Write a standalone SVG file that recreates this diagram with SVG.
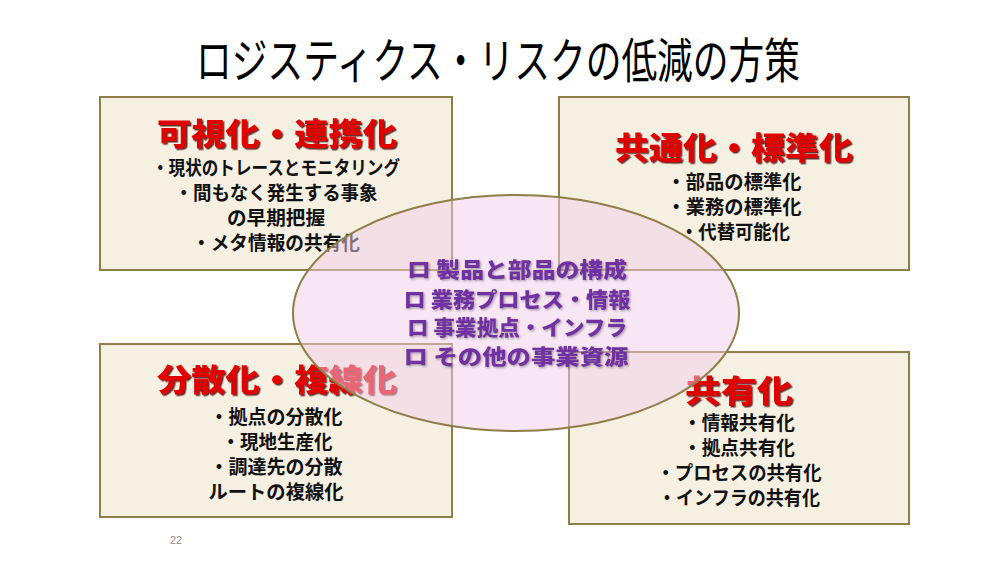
<svg xmlns="http://www.w3.org/2000/svg" width="1000" height="562" viewBox="0 0 1000 562">
<defs>
<filter id="redShadow" x="-5%" y="-20%" width="110%" height="140%">
<feDropShadow dx="1.5" dy="1.5" stdDeviation="0.6" flood-color="#400000" flood-opacity="0.8"/>
</filter>
<filter id="softShadow" x="-5%" y="-20%" width="110%" height="140%">
<feDropShadow dx="1.2" dy="1.2" stdDeviation="0.8" flood-color="#000000" flood-opacity="0.35"/>
</filter>
</defs>
<style>
.box{fill:#F5F0E1;stroke:#8E7E48;stroke-width:2}
.ttl{font-family:"Noto Sans CJK JP","Noto Sans",sans-serif;font-weight:900;font-size:31px;fill:#E00000;text-anchor:middle;filter:url(#redShadow)}
.body{font-family:"Noto Sans CJK JP","Noto Sans",sans-serif;font-weight:700;font-size:19px;fill:#111111;text-anchor:middle}
.ctr{font-family:"Noto Sans CJK JP","Noto Sans",sans-serif;font-weight:900;font-size:21px;fill:#7030A0;text-anchor:middle;filter:url(#softShadow)}
.head{font-family:"Noto Sans CJK JP","Noto Sans",sans-serif;font-weight:400;font-size:48px;fill:#000000;text-anchor:middle}
</style>
<rect width="1000" height="562" fill="#FFFFFF"/>
<text class="head" x="498" y="78" textLength="604" lengthAdjust="spacingAndGlyphs">ロジスティクス・リスクの低減の方策</text>

<g id="node-visualize">
<rect class="box" x="100" y="97" width="352" height="173"/>
<text class="ttl" x="277" y="145" textLength="240" lengthAdjust="spacingAndGlyphs">可視化・連携化</text>
<text class="body" x="276" y="175" textLength="248" lengthAdjust="spacingAndGlyphs">・現状のトレースとモニタリング</text>
<text class="body" x="276" y="200" textLength="203" lengthAdjust="spacingAndGlyphs">・間もなく発生する事象</text>
<text class="body" x="276" y="225" textLength="98" lengthAdjust="spacingAndGlyphs">の早期把握</text>
<text class="body" x="276" y="250" textLength="168" lengthAdjust="spacingAndGlyphs">・メタ情報の共有化</text>
</g>

<g id="node-standardize">
<rect class="box" x="559" y="97" width="350" height="173"/>
<text class="ttl" x="734" y="159" textLength="238" lengthAdjust="spacingAndGlyphs">共通化・標準化</text>
<text class="body" x="734" y="189" textLength="135" lengthAdjust="spacingAndGlyphs">・部品の標準化</text>
<text class="body" x="734" y="214" textLength="135" lengthAdjust="spacingAndGlyphs">・業務の標準化</text>
<text class="body" x="735" y="239" textLength="110" lengthAdjust="spacingAndGlyphs">・代替可能化</text>
</g>

<g id="node-distribute">
<rect class="box" x="100" y="344" width="352" height="173"/>
<text class="ttl" x="277" y="391" textLength="240" lengthAdjust="spacingAndGlyphs">分散化・複線化</text>
<text class="body" x="276" y="424" textLength="133" lengthAdjust="spacingAndGlyphs">・拠点の分散化</text>
<text class="body" x="277" y="449" textLength="111" lengthAdjust="spacingAndGlyphs">・現地生産化</text>
<text class="body" x="276" y="474" textLength="133" lengthAdjust="spacingAndGlyphs">・調達先の分散</text>
<text class="body" x="276" y="499" textLength="135" lengthAdjust="spacingAndGlyphs">ルートの複線化</text>
</g>

<g id="node-share">
<rect class="box" x="569" y="352" width="340" height="172"/>
<text class="ttl" x="739" y="402" textLength="108" lengthAdjust="spacingAndGlyphs">共有化</text>
<text class="body" x="739" y="430" textLength="112" lengthAdjust="spacingAndGlyphs">・情報共有化</text>
<text class="body" x="739" y="455" textLength="112" lengthAdjust="spacingAndGlyphs">・拠点共有化</text>
<text class="body" x="739" y="480" textLength="165" lengthAdjust="spacingAndGlyphs">・プロセスの共有化</text>
<text class="body" x="739" y="505" textLength="162" lengthAdjust="spacingAndGlyphs">・インフラの共有化</text>
</g>

<g id="node-resources">
<ellipse cx="516" cy="313" rx="223" ry="118" fill="#F2CDEA" fill-opacity="0.5" stroke="#8E7E48" stroke-width="2"/>
<text class="ctr" x="517" y="277" textLength="220" lengthAdjust="spacingAndGlyphs">ロ 製品と部品の構成</text>
<text class="ctr" x="517" y="307" textLength="227" lengthAdjust="spacingAndGlyphs">ロ 業務プロセス・情報</text>
<text class="ctr" x="517" y="335" textLength="220" lengthAdjust="spacingAndGlyphs">ロ 事業拠点・インフラ</text>
<text class="ctr" x="516" y="364" textLength="225" lengthAdjust="spacingAndGlyphs">ロ その他の事業資源</text>
</g>

<g id="connectors"></g>

<text x="176" y="544" font-family="Liberation Sans, sans-serif" font-size="11" fill="#8C8C8C" text-anchor="middle">22</text>
</svg>
